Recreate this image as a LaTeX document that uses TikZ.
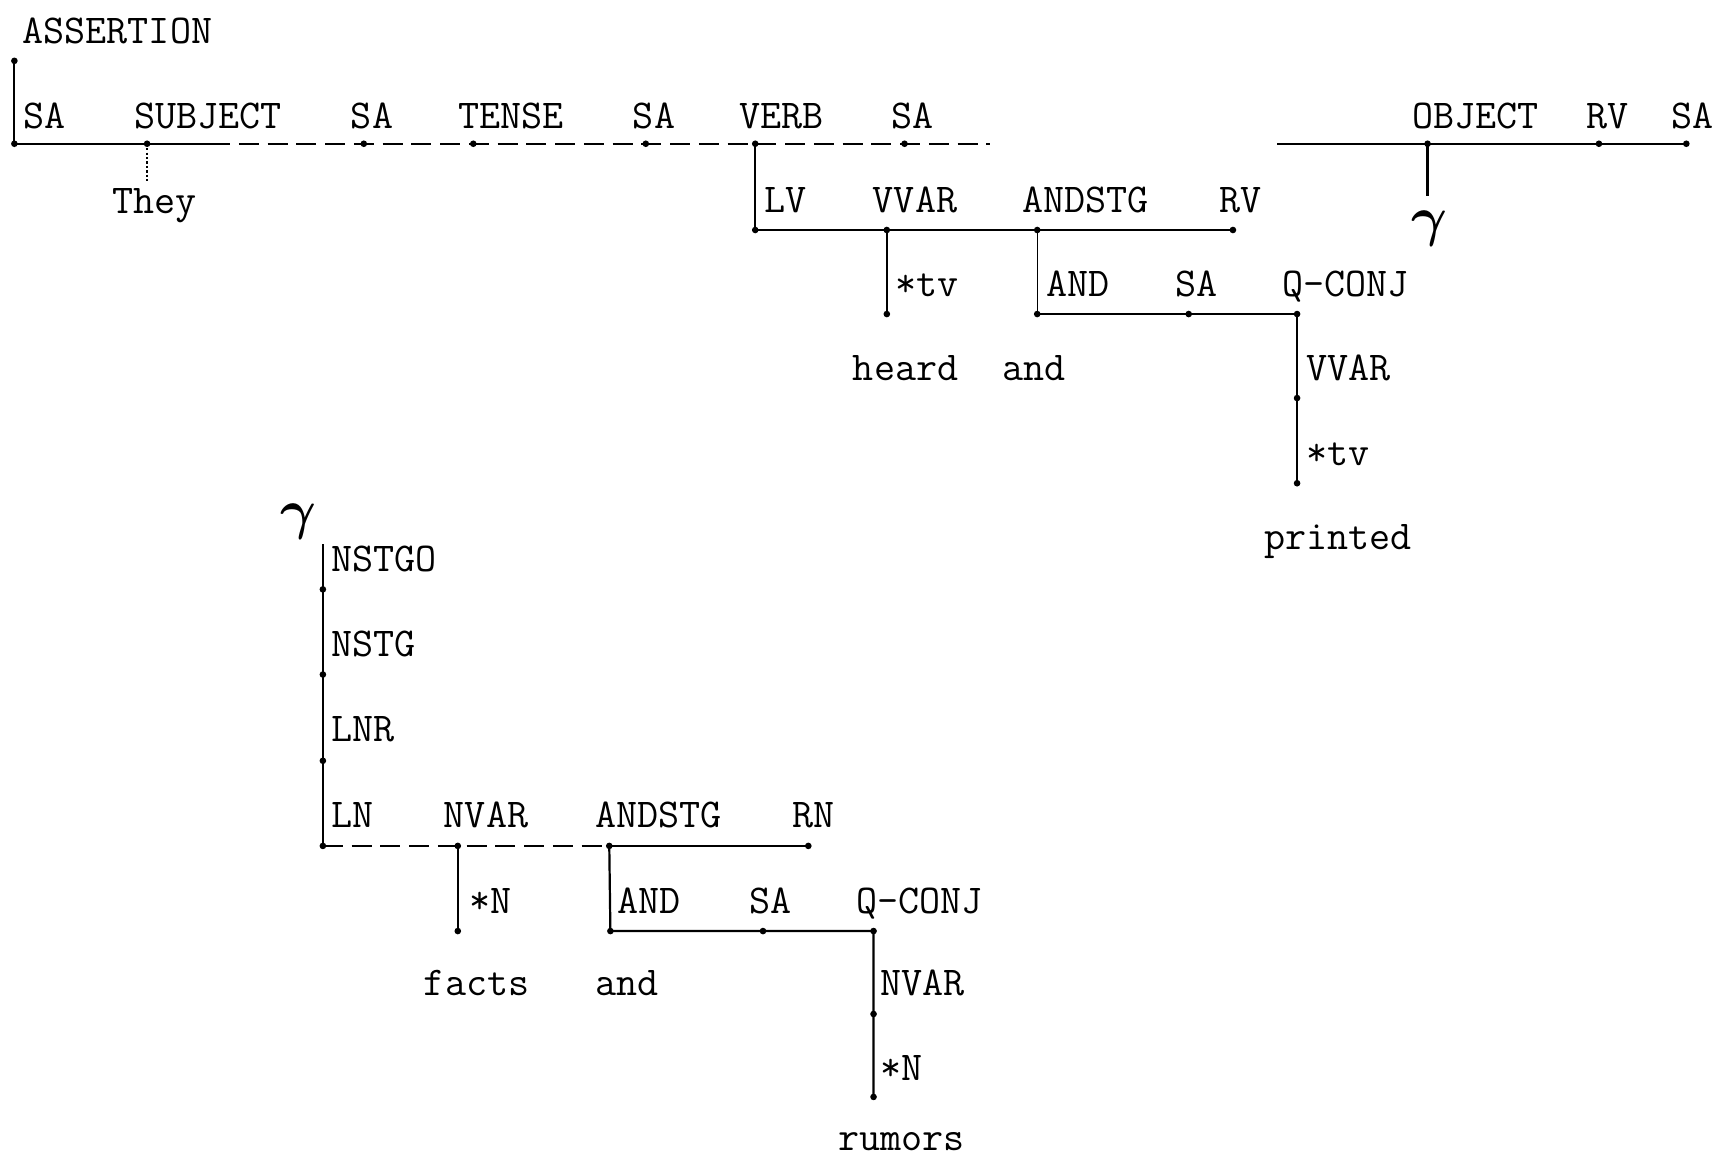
\documentclass[tikz,border=0pt]{standalone}
\usepackage{fontspec}
\usepackage{amsmath}
\usepackage{bm}

\begin{document}
\begin{tikzpicture}[x=0.5pt,y=-0.5pt,
        lbl/.style={anchor=base west,inner sep=0pt,xshift=-2pt,font=\ttfamily\fontsize{18.5}{20}\selectfont},
        link/.style={line width=1pt},
        faint/.style={line width=0.7pt,dash pattern=on 9pt off 4pt},
        dot/.style={circle,fill,inner sep=0pt,minimum size=3pt},
        gam/.style={inner sep=0pt,font=\fontsize{24}{26}\selectfont}]
    \useasboundingbox (0,0) rectangle (1560,1049);
    % top line of the assertion
    \node[lbl] (assertion) at (24,39) {ASSERTION};
    \node[dot] (asr) at (13,55) {};
    \node[dot] (a0) at (13,130) {};
    \node[dot] (a1) at (133,130) {};
    \node[dot] (a2) at (329,130) {};
    \node[dot] (a3) at (428,130) {};
    \node[dot] (a4) at (584,130) {};
    \node[dot] (a5) at (683,130) {};
    \node[dot] (a6) at (818,130) {};
    \coordinate (a7) at (895,130);
    \coordinate (a8) at (1155,130);
    \node[dot] (a9) at (1291,130) {};
    \node[dot] (a10) at (1446,130) {};
    \node[dot] (a11) at (1525,130) {};
    \coordinate (afade) at (190,130);
    \node[lbl] at (25,116) {SA};
    \node[lbl] at (125,116) {SUBJECT};
    \node[lbl] at (321,116) {SA};
    \node[lbl] at (418,116) {TENSE};
    \node[lbl] at (576,116) {SA};
    \node[lbl] at (672,116) {VERB};
    \node[lbl] at (810,116) {SA};
    \node[lbl] at (1281,116) {OBJECT};
    \node[lbl] at (1438,116) {RV};
    \node[lbl] at (1515,116) {SA};
    \draw[link] (asr.center) -- (a0.center) -- (afade);
    \draw[faint] (afade) -- (a7);
    \draw[link] (a8) -- (a11.center);
    % subject
    \coordinate (they) at (133,165);
    \draw[densely dotted,line width=1pt] (a1.center) -- (they);
    \node[lbl] at (105,193) {They};
    % verb
    \node[dot] (v0) at (683,208) {};
    \node[dot] (v1) at (802,208) {};
    \node[dot] (v2) at (938,208) {};
    \node[dot] (v3) at (1115,208) {};
    \node[lbl] at (695,192) {LV};
    \node[lbl] at (793,192) {VVAR};
    \node[lbl] at (928,192) {ANDSTG};
    \node[lbl] at (1106,192) {RV};
    \draw[link] (a5.center) -- (v0.center) -- (v3.center);
    \node[dot] (t1) at (802,284) {};
    \draw[link] (v1.center) -- (t1.center);
    \node[lbl] at (813,268) {*tv};
    \node[lbl] at (775,344) {heard};
    \node[lbl] at (910,344) {and};
    \node[dot] (c0) at (938,284) {};
    \node[dot] (c1) at (1075,284) {};
    \node[dot] (c2) at (1173,284) {};
    \node[dot] (c3) at (1173,360) {};
    \node[dot] (c4) at (1173,437) {};
    \draw[line width=0.5pt] (v2.center) -- (c0.center);
    \draw[link] (c0.center) -- (c2.center) -- (c4.center);
    \node[lbl] at (950,268) {AND};
    \node[lbl] at (1067,268) {SA};
    \node[lbl] at (1163,268) {Q-CONJ};
    \node[lbl] at (1185,344) {VVAR};
    \node[lbl] at (1185,421) {*tv};
    \node[lbl] at (1147,497) {printed};
    % object
    \coordinate (objend) at (1291,177);
    \draw[line width=1.5pt] (a9.center) -- (objend);
    \node[gam] (gam1) at (1293,207) {$\bm{\gamma}$};
    % object expanded
    \node[gam] (gam2) at (270,472) {$\bm{\gamma}$};
    \coordinate (g0) at (292,492);
    \node[dot] (n1) at (292,533) {};
    \node[dot] (n2) at (292,610) {};
    \node[dot] (n3) at (292,688) {};
    \node[dot] (n4) at (292,765) {};
    \node[lbl] at (303,517) {NSTGO};
    \node[lbl] at (303,594) {NSTG};
    \node[lbl] at (303,671) {LNR};
    \node[lbl] at (303,748) {LN};
    \draw[link] (g0) -- (n4.center);
    \node[dot] (m1) at (414,765) {};
    \node[dot] (m2) at (551,765) {};
    \node[dot] (m3) at (731,765) {};
    \node[lbl] at (405,748) {NVAR};
    \node[lbl] at (542,748) {ANDSTG};
    \node[lbl] at (720,748) {RN};
    \draw[faint] (n4.center) -- (m2.center);
    \draw[link] (m2.center) -- (m3.center);
    \node[dot] (m4) at (414,842) {};
    \draw[link] (m1.center) -- (m4.center);
    \node[lbl] at (428,826) {*N};
    \node[lbl] at (387,900) {facts};
    \node[lbl] at (542,900) {and};
    \node[dot] (k0) at (552,842) {};
    \node[dot] (k1) at (690,842) {};
    \node[dot] (k2) at (790,842) {};
    \node[dot] (k3) at (790,917) {};
    \node[dot] (k4) at (790,992) {};
    \draw[link] (m2.center) -- (k0.center) -- (k2.center) -- (k4.center);
    \node[lbl] at (562,826) {AND};
    \node[lbl] at (681,826) {SA};
    \node[lbl] at (778,826) {Q-CONJ};
    \node[lbl] at (800,900) {NVAR};
    \node[lbl] at (800,977) {*N};
    \node[lbl] at (762,1040) {rumors};
\end{tikzpicture}
\end{document}
